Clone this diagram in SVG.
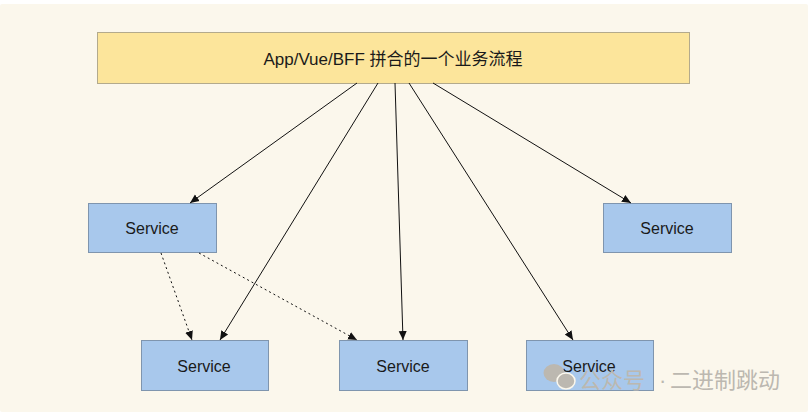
<svg xmlns="http://www.w3.org/2000/svg" width="808" height="412" viewBox="0 0 808 412">
<defs>
<style>
.bg{fill:#FBF7EC}
.svc rect{fill:#A8C8EC;stroke:#7F95AE;stroke-width:1}
.top rect{fill:#FCE59B;stroke:#B3AA8C;stroke-width:1}
text{font-family:"Liberation Sans","Noto Sans CJK SC",sans-serif;font-size:16px;fill:#1a1a1a;text-anchor:middle}
.title{font-size:17px}
.edge{stroke:#111;stroke-width:1;fill:none;marker-end:url(#ah)}
.dash{stroke-dasharray:2 3}
.wm{fill:#BCB8B0;font-size:22px;text-anchor:start;font-family:"Noto Sans CJK SC",sans-serif}
.dot{font-family:"Liberation Sans",sans-serif}
</style>
<marker id="ah" markerWidth="10" markerHeight="10" refX="9" refY="5" orient="auto" markerUnits="userSpaceOnUse">
<path d="M0,1 L9,5 L0,9 Z" fill="#111"/>
</marker>
</defs>
<rect x="0" y="0" width="808" height="412" fill="#FFFFFF"/>
<rect class="bg" x="0" y="4" width="808" height="408" rx="2"/>
<g id="top" class="top">
<rect x="97.5" y="32.5" width="592" height="51"/>
<text class="title" x="393" y="65">App/Vue/BFF 拼合的一个业务流程</text>
</g>
<g id="svc-left" class="svc">
<rect x="88.5" y="203.5" width="128" height="49"/>
<text x="152" y="234">Service</text>
</g>
<g id="svc-right" class="svc">
<rect x="603.5" y="203.5" width="128" height="49"/>
<text x="667" y="234">Service</text>
</g>
<g id="svc-b1" class="svc">
<rect x="141.5" y="340.5" width="127" height="50"/>
<text x="204" y="372">Service</text>
</g>
<g id="svc-b2" class="svc">
<rect x="339.5" y="340.5" width="128" height="50"/>
<text x="403" y="372">Service</text>
</g>
<g id="svc-b3" class="svc">
<rect x="526.5" y="340.5" width="127" height="50"/>
<text x="589" y="372">Service</text>
</g>
<g id="connectors">
<line class="edge" x1="357" y1="83" x2="190" y2="203"/>
<line class="edge" x1="378" y1="83" x2="220" y2="340"/>
<line class="edge" x1="395" y1="83" x2="403" y2="340"/>
<line class="edge" x1="409" y1="83" x2="573" y2="340"/>
<line class="edge" x1="433" y1="83" x2="631" y2="203"/>
<line class="edge dash" x1="161" y1="253" x2="192" y2="340"/>
<line class="edge dash" x1="199" y1="253" x2="357" y2="340"/>
</g>
<g id="watermark">
<ellipse cx="554" cy="373" rx="10.5" ry="9" fill="#BCB8B0"/>
<ellipse cx="566" cy="381" rx="9" ry="8" fill="#BCB8B0" stroke="#FBF7EC" stroke-width="1.5"/>
<text class="wm" x="579" y="388">公众号<tspan class="dot" x="659">·</tspan><tspan x="670">二进制跳动</tspan></text>
</g>
</svg>
